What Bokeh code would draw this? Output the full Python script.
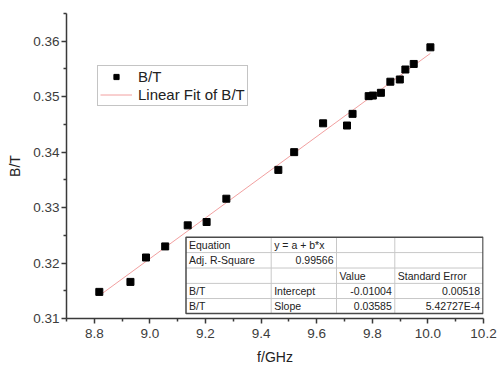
import numpy as np
from bokeh.plotting import figure
from bokeh.models import (Range1d, FixedTicker, PrintfTickFormatter, Legend, LegendItem,
                          ColumnDataSource)
from bokeh.core.properties import value
from bokeh.embed import file_html
from bokeh.resources import INLINE

# ---- data ----
freq_ghz = [8.818, 8.930, 8.986, 9.055, 9.136, 9.204, 9.275, 9.462, 9.519, 9.623,
            9.709, 9.729, 9.787, 9.802, 9.831, 9.865, 9.899, 9.919, 9.949, 10.009]
b_over_t = [0.3148, 0.3166, 0.3210, 0.3230, 0.3268, 0.3274, 0.3316, 0.3368, 0.3400, 0.3452,
            0.3448, 0.3469, 0.3501, 0.3502, 0.3507, 0.3527, 0.3531, 0.3549, 0.3559, 0.3589]
x_ticks = [8.8, 9.0, 9.2, 9.4, 9.6, 9.8, 10.0, 10.2]
y_ticks = [0.31, 0.32, 0.33, 0.34, 0.35, 0.36]
table_rows = [
    ["Equation", "y = a + b*x", "", ""],
    ["Adj. R-Square", "0.99566", "", ""],
    ["", "", "Value", "Standard Error"],
    ["B/T", "Intercept", "-0.01004", "0.00518"],
    ["B/T", "Slope", "0.03585", "5.42727E-4"],
]
right_aligned = {"0.99566", "-0.01004", "0.00518", "0.03585", "5.42727E-4"}

# ---- layout ----
W, H = 497, 367
FL, FT, FR, FB = 66, 13, 14, 44
FW, FH = W - FL - FR, H - FT - FB
X0, X1 = 8.7, 10.2
Y0, Y1 = 0.31, 0.365
FONT = "Liberation Sans"


def dx(px):
    return X0 + (px - FL) / FW * (X1 - X0)


def dy(py):
    return Y1 - (py - FT) / FH * (Y1 - Y0)


p = figure(width=W, height=H, output_backend="svg", toolbar_location=None,
           x_range=Range1d(X0, X1), y_range=Range1d(Y0, Y1),
           min_border_left=FL, min_border_right=FR, min_border_top=FT, min_border_bottom=FB)
p.outline_line_color = None
p.xgrid.visible = False
p.ygrid.visible = False
p.background_fill_color = "white"
p.border_fill_color = "white"

# axes
for ax in (p.xaxis[0], p.yaxis[0]):
    ax.axis_line_color = "#3a3a3a"
    ax.axis_line_width = 1.5
    ax.major_tick_line_color = "#3a3a3a"
    ax.major_tick_line_width = 1.5
    ax.minor_tick_line_color = "#3a3a3a"
    ax.minor_tick_line_width = 1.5
    ax.major_tick_in = 0
    ax.major_tick_out = 5
    ax.minor_tick_in = 0
    ax.minor_tick_out = 3
    ax.major_label_text_font = FONT
    ax.major_label_text_font_size = "13.5px"
    ax.major_label_text_color = "#3c3c3c"
    ax.axis_label_text_font = FONT
    ax.axis_label_text_font_size = "14px"
    ax.axis_label_text_font_style = "normal"
    ax.axis_label_text_color = "#222222"

xminor = [round(t + 0.1, 1) for t in x_ticks[:-1]] + [X0]
yminor = [round(t + 0.005, 3) for t in y_ticks]
p.xaxis.ticker = FixedTicker(ticks=x_ticks, minor_ticks=xminor)
p.yaxis.ticker = FixedTicker(ticks=y_ticks, minor_ticks=yminor)
p.xaxis.formatter = PrintfTickFormatter(format="%.1f")
p.yaxis.formatter = PrintfTickFormatter(format="%.2f")
p.xaxis.axis_label = "f/GHz"
p.yaxis.axis_label = "B/T"
p.xaxis.major_label_standoff = 5
p.yaxis.major_label_standoff = 2
p.xaxis.axis_label_standoff = 8
p.yaxis.axis_label_standoff = 7

# linear fit through the points
slope, intercept = np.polyfit(freq_ghz, b_over_t, 1)
fit_x = [min(freq_ghz), max(freq_ghz)]
fit_y = [intercept + slope * v for v in fit_x]

fit_r = p.line(fit_x, fit_y, line_color="#f2a0a0", line_width=1)
pts_r = p.scatter(freq_ghz, b_over_t, marker="square", size=7,
                  fill_color="black", line_color="black")

legend = Legend(items=[LegendItem(label="B/T", renderers=[pts_r]),
                       LegendItem(label="Linear Fit of B/T", renderers=[fit_r])],
                location=(31, 212), padding=2, spacing=1, margin=0,
                glyph_width=32, glyph_height=13, label_height=16, label_standoff=6,
                border_line_color="#8a8a8a", border_line_width=1,
                label_text_font=FONT, label_text_font_size="15px",
                label_text_color="#222222", background_fill_alpha=1)
p.add_layout(legend)

# ---- results table ----
col_px = [185.5, 270.7, 336.0, 394.3, 482.5]
row_px = [240.5, 256.0, 271.7, 287.3, 302.7, 318.0]
cx = [dx(v) for v in col_px]
ry = [dy(v) for v in row_px]

p.quad(left=cx[0], right=cx[-1], top=ry[0], bottom=ry[-1],
       fill_color="white", line_color=None)
seg_x0, seg_y0, seg_x1, seg_y1 = [], [], [], []
for y in ry[1:-1]:
    seg_x0.append(cx[0]); seg_x1.append(cx[-1]); seg_y0.append(y); seg_y1.append(y)
for x in cx[1:-1]:
    seg_x0.append(x); seg_x1.append(x); seg_y0.append(ry[0]); seg_y1.append(ry[-1])
p.segment(seg_x0, seg_y0, seg_x1, seg_y1, line_color="#c8c8c8", line_width=1)
p.quad(left=cx[0], right=cx[-1], top=ry[0], bottom=ry[-1],
       fill_color=None, line_color="#4a4a4a", line_width=1.5)

tx, ty, tt, ta = [], [], [], []
for i, row in enumerate(table_rows):
    yc = dy((row_px[i] + row_px[i + 1]) / 2)
    for j, cell in enumerate(row):
        if not cell:
            continue
        if cell in right_aligned:
            tx.append(dx(col_px[j + 1] - 3)); ta.append("right")
        else:
            tx.append(dx(col_px[j] + 3)); ta.append("left")
        ty.append(yc); tt.append(cell)
src = ColumnDataSource(dict(x=tx, y=ty, text=tt, align=ta))
p.text(x="x", y="y", text="text", text_align="align", text_baseline="middle",
       text_font=value(FONT), text_font_size="10.5px", text_color="#222222", source=src)

open("out.html", "w").write(file_html(p, INLINE))
